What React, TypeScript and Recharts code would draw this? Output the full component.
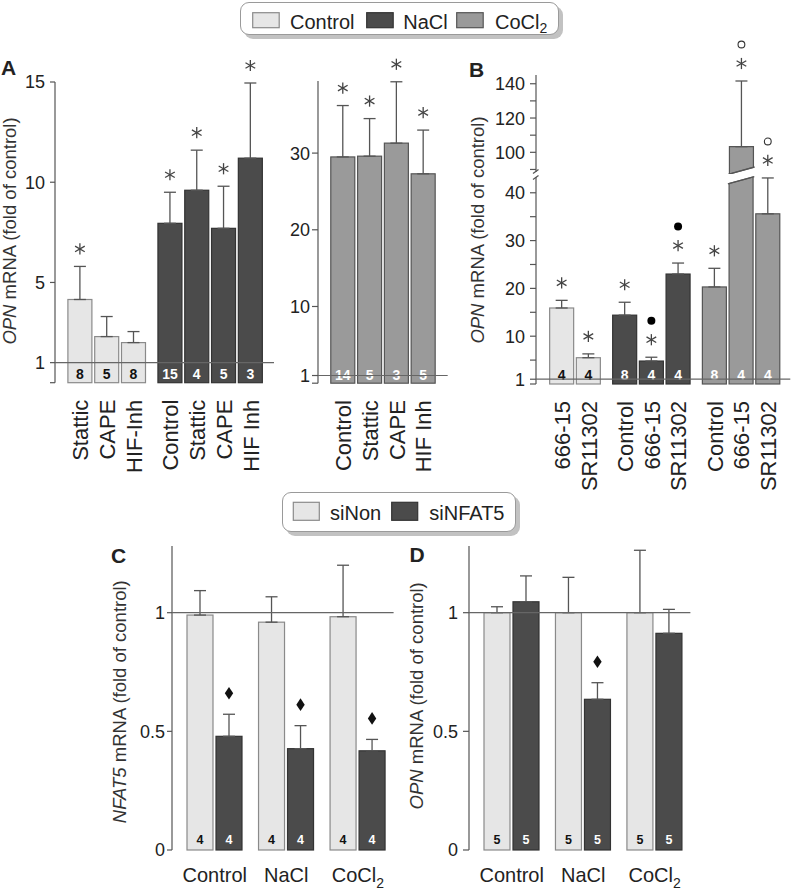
import React from 'react';
import { ComposedChart, Bar, XAxis, YAxis, ErrorBar } from 'recharts';

const FONT = '"Liberation Sans", Arial, Helvetica, sans-serif';
const INK = '#222';
const AXIS = '#555';

// fill / edge / n-label colour by treatment: Control, NaCl, CoCl2
const FILLS = ['#e6e6e6', '#4b4b4b', '#9a9a9a'];
const EDGES = ['#8a8a8a', '#333333', '#555555'];
const N_INK = ['#111111', '#ffffff', '#ffffff'];

// panel A, left part (Control + NaCl)
const aLeftLabels = ['Stattic', 'CAPE', 'HIF-Inh', 'Control', 'Stattic', 'CAPE', 'HIF Inh'];
const aLeftGroups = [0, 0, 0, 1, 1, 1, 1];
const aLeftMeans = [4.15, 2.3, 2.0, 7.95, 9.6, 7.7, 11.2];
const aLeftSem = [1.65, 1.0, 0.55, 1.55, 2.0, 2.1, 3.75];
const aLeftN = [8, 5, 8, 15, 4, 5, 3];
const aLeftMarks = ['*', '', '', '*', '*', '*', '*'];

// panel A, right part (CoCl2)
const aRightLabels = ['Control', 'Stattic', 'CAPE', 'HIF Inh'];
const aRightGroups = [2, 2, 2, 2];
const aRightMeans = [29.5, 29.6, 31.3, 27.3];
const aRightSem = [6.7, 4.9, 8.0, 5.7];
const aRightN = [14, 5, 3, 5];
const aRightMarks = ['*', '*', '*', '*'];

// panel B
const bLabels = ['666-15', 'SR11302', 'Control', '666-15', 'SR11302', 'Control', '666-15', 'SR11302'];
const bGroups = [0, 0, 1, 1, 1, 2, 2, 2];
const bMeans = [15.9, 5.5, 14.4, 4.8, 23.0, 20.3, 103.3, 35.6];
const bSem = [1.6, 0.8, 2.7, 0.8, 2.3, 3.9, 38.3, 7.5];
const bN = [4, 4, 8, 4, 4, 8, 4, 4];
const bMarks = ['*', '*', '*', '*f', '*f', '*', '*o', '*o'];

// panels C and D
const cdCategories = ['Control', 'NaCl', 'CoCl2'];
const cNonMeans = [0.99, 0.96, 0.983];
const cNonSem = [0.103, 0.107, 0.217];
const cNfMeans = [0.479, 0.427, 0.418];
const cNfSem = [0.093, 0.097, 0.048];
const cN = [4, 4, 4];
const cNfMarks = ['d', 'd', 'd'];

const dNonMeans = [1.0, 1.0, 1.0];
const dNonSem = [0.025, 0.149, 0.263];
const dNfMeans = [1.046, 0.635, 0.913];
const dNfSem = [0.109, 0.07, 0.101];
const dN = [5, 5, 5];
const dNfMarks = ['', 'd', ''];

const GROUP_GAP = 0.36;
const B_LOW_TOP = 43.3;
const B_UP_MIN = 87.35;

type Item = { g: number; mean: number; sem: number; n: number; mark: string };
type Row = Item & { label: string; pos: number; err: number[]; shown: number; errLow: number[] | null };

function buildRows(labels: string[], groups: number[], means: number[], sems: number[], ns: number[], marks: string[]): Row[] {
  let gaps = 0;
  return labels.map((label, i) => {
    if (i > 0 && groups[i] !== groups[i - 1]) gaps += 1;
    return {
      label, pos: i + gaps * GROUP_GAP, g: groups[i], mean: means[i], sem: sems[i],
      err: [0, sems[i]], n: ns[i], mark: marks[i],
      shown: Math.min(means[i], B_LOW_TOP),
      errLow: means[i] > B_LOW_TOP ? null : [0, sems[i]],
    };
  });
}

const aLeftRows = buildRows(aLeftLabels, aLeftGroups, aLeftMeans, aLeftSem, aLeftN, aLeftMarks);
const aRightRows = buildRows(aRightLabels, aRightGroups, aRightMeans, aRightSem, aRightN, aRightMarks);
const bRows = buildRows(bLabels, bGroups, bMeans, bSem, bN, bMarks);
const bUpperRows = bRows.filter(r => r.mean > B_LOW_TOP);

function pairRows(nonM: number[], nonS: number[], nfM: number[], nfS: number[], ns: number[], nfMarks: string[]) {
  return cdCategories.map((cat, i) => ({
    cat,
    nonMean: nonM[i], nfMean: nfM[i],
    nonErr: [0, nonS[i]], nfErr: [0, nfS[i]],
    non: { g: 0, mean: nonM[i], sem: nonS[i], n: ns[i], mark: '' },
    nf: { g: 1, mean: nfM[i], sem: nfS[i], n: ns[i], mark: nfMarks[i] },
  }));
}
const cRows = pairRows(cNonMeans, cNonSem, cNfMeans, cNfSem, cN, cNfMarks);
const dRows = pairRows(dNonMeans, dNonSem, dNfMeans, dNfSem, dN, dNfMarks);

const Asterisk = ({ cx, cy }: { cx: number; cy: number }) => {
  const r = 5.6;
  return (
    <g stroke="#444" strokeWidth={1.3}>
      {[90, 30, -30].map(a => {
        const dx = r * Math.cos((a * Math.PI) / 180);
        const dy = r * Math.sin((a * Math.PI) / 180);
        return <line key={a} x1={cx - dx} y1={cy - dy} x2={cx + dx} y2={cy + dy} />;
      })}
    </g>
  );
};

function Marks({ cx, top, mark }: { cx: number; top: number; mark: string }) {
  return (
    <g>
      {mark.includes('*') && <Asterisk cx={cx} cy={top - 17.5} />}
      {mark.includes('f') && <circle cx={cx} cy={top - 36.5} r={4} fill="#000" />}
      {mark.includes('o') && <circle cx={cx} cy={top - 36.5} r={3.4} fill="#fff" stroke="#333" strokeWidth={1.1} />}
      {mark.includes('d') && (
        <polygon
          points={`${cx},${top - 27.3} ${cx + 4.2},${top - 21} ${cx},${top - 14.7} ${cx - 4.2},${top - 21}`}
          fill="#111"
        />
      )}
    </g>
  );
}

type ShapeOpt = {
  base: number; pick: (d: any) => Item; nSize: number; nLift: number; showN: boolean;
  cut?: 'top' | 'bottom';
};

const barShape = (o: ShapeOpt) => (p: any) => {
  const { x, y, width: w, height: h, payload } = p;
  const s = o.pick(payload);
  if (!s || y == null || isNaN(y)) return <g />;
  const fill = FILLS[s.g];
  const edge = EDGES[s.g];
  const broken = o.cut === 'top' && s.mean > B_LOW_TOP;
  let body;
  if (broken) {
    body = (
      <g>
        <polygon points={`${x},${y + 6.5} ${x + w},${y} ${x + w},${y + h} ${x},${y + h}`} fill={fill} stroke={edge} strokeWidth={1.2} />
        <line x1={x - 1.2} y1={y + 6.8} x2={x + w + 1.2} y2={y - 0.3} stroke={edge} strokeWidth={1.3} />
      </g>
    );
  } else if (o.cut === 'bottom') {
    body = (
      <g>
        <polygon points={`${x},${y} ${x + w},${y} ${x + w},${y + h - 6.7} ${x},${y + h}`} fill={fill} stroke={edge} strokeWidth={1.2} />
        <line x1={x - 1.2} y1={y + h + 0.3} x2={x + w + 1.2} y2={y + h - 7} stroke={edge} strokeWidth={1.3} />
      </g>
    );
  } else {
    body = <rect x={x} y={y} width={w} height={h} fill={fill} stroke={edge} strokeWidth={1.2} />;
  }
  const k = h / (s.mean - o.base);
  const top = y - s.sem * k;
  return (
    <g>
      {body}
      {o.showN && (
        <text x={x + w / 2} y={y + h - o.nLift} textAnchor="middle" fontSize={o.nSize} fontWeight="bold"
          fontFamily={FONT} fill={N_INK[s.g]}>{s.n}</text>
      )}
      {!broken && s.mark && <Marks cx={x + w / 2} top={top} mark={s.mark} />}
    </g>
  );
};

// y tick labels; the tick at 1 also carries the "fold of control = 1" line across the plot (drawn under the bars)
type TickOpt = { shown: number[]; off: number; span: number; lineAt?: number };
const yTick = (t: TickOpt) => (p: any) => {
  const v = p.payload?.value;
  const axisX = p.x + t.off;
  return (
    <g>
      {t.lineAt === v && <line x1={axisX} y1={p.y} x2={axisX + t.span} y2={p.y} stroke="#666" strokeWidth={1.2} />}
      {t.shown.includes(v) && (
        <text x={p.x} y={p.y} dy="0.36em" textAnchor="end" fontSize={18} fontFamily={FONT} fill={INK}>{String(v)}</text>
      )}
    </g>
  );
};

const rotTick = (rows: Row[]) => (p: any) => {
  const v = p.payload?.value;
  const r = rows.find(q => Math.abs(q.pos - v) < 1e-6);
  if (!r) return <g />;
  const ty = p.y + 17;
  return (
    <text x={p.x} y={ty} dy="0.36em" textAnchor="end" transform={`rotate(-90 ${p.x} ${ty})`}
      fontSize={22} fontFamily={FONT} fill={INK}>{r.label}</text>
  );
};

const catTick = (p: any) => {
  const v = p.payload?.value as string;
  const ty = p.y + 31.7;
  return (
    <text x={p.x} y={ty} textAnchor="middle" fontSize={20} fontFamily={FONT} fill={INK}>
      {v === 'CoCl2' ? (<><tspan>CoCl</tspan><tspan dy={6} fontSize={14}>2</tspan></>) : v}
    </text>
  );
};

type Plot = { l: number; t: number; r: number; b: number };
function frame(p: Plot, yw: number, mt: number, xh: number, mr = 2) {
  return {
    left: p.l - yw, top: p.t - mt,
    width: p.r - p.l + yw + mr, height: p.b - p.t + mt + xh,
    margin: { top: mt, right: mr, bottom: 0, left: 0 },
  };
}

type NumProps = {
  rows: Row[]; tickRows: Row[]; plot: Plot; xDomain: [number, number]; yDomain: [number, number];
  yTicks: number[]; yShown: number[]; yw: number; mt: number; xh: number; tickSize: number; tickMargin: number;
  valueKey: string; errKey: string; opt: ShapeOpt; hideX?: boolean; refOne?: boolean;
};

function NumChart(q: NumProps) {
  const f = frame(q.plot, q.yw, q.mt, q.xh);
  const tick = yTick({ shown: q.yShown, off: q.tickSize + q.tickMargin, span: q.plot.r - q.plot.l, lineAt: q.refOne ? 1 : undefined });
  return (
    <div style={{ position: 'absolute', left: f.left, top: f.top }}>
      <ComposedChart width={f.width} height={f.height} data={q.rows} margin={f.margin}>
        <XAxis type="number" dataKey="pos" domain={q.xDomain} ticks={q.tickRows.map(r => r.pos)} interval={0}
          hide={q.hideX} height={q.hideX ? 0 : q.xh} axisLine={false} tickLine={false} tickSize={0} tickMargin={0}
          tick={q.hideX ? false : rotTick(q.tickRows)} />
        <YAxis type="number" domain={q.yDomain} ticks={q.yTicks} interval={0} width={q.yw}
          axisLine={{ stroke: AXIS, strokeWidth: 1.2 }} tickLine={{ stroke: AXIS, strokeWidth: 1.2 }}
          tickSize={q.tickSize} tickMargin={q.tickMargin} tick={tick} />
        <Bar dataKey={q.valueKey} barSize={24} isAnimationActive={false} shape={barShape(q.opt)}>
          <ErrorBar dataKey={q.errKey} width={6} stroke="#555" strokeWidth={1.3} isAnimationActive={false} />
        </Bar>
      </ComposedChart>
    </div>
  );
}

function PairChart({ rows, plot, tickSize, tickMargin }: { rows: any[]; plot: Plot; tickSize: number; tickMargin: number }) {
  const f = frame(plot, 50, 30, 44);
  const opt = (key: 'non' | 'nf'): ShapeOpt => ({ base: 0, pick: d => d[key], nSize: 12.5, nLift: 6, showN: true });
  const tick = yTick({ shown: [0, 0.5, 1], off: tickSize + tickMargin, span: plot.r - plot.l, lineAt: 1 });
  return (
    <div style={{ position: 'absolute', left: f.left, top: f.top }}>
      <ComposedChart width={f.width} height={f.height} data={rows} margin={f.margin} barGap={3}>
        <XAxis dataKey="cat" type="category" padding={{ left: 7, right: 0 }} interval={0} height={44}
          axisLine={false} tickLine={false} tickSize={0} tickMargin={0} tick={catTick} />
        <YAxis type="number" domain={[0, 1.281]} ticks={[0, 0.5, 1]} interval={0} width={50}
          axisLine={{ stroke: AXIS, strokeWidth: 1.2 }} tickLine={{ stroke: AXIS, strokeWidth: 1.2 }}
          tickSize={tickSize} tickMargin={tickMargin} tick={tick} />
        <Bar dataKey="nonMean" barSize={26} isAnimationActive={false} shape={barShape(opt('non'))}>
          <ErrorBar dataKey="nonErr" width={6} stroke="#555" strokeWidth={1.3} isAnimationActive={false} />
        </Bar>
        <Bar dataKey="nfMean" barSize={26} isAnimationActive={false} shape={barShape(opt('nf'))}>
          <ErrorBar dataKey="nfErr" width={6} stroke="#555" strokeWidth={1.3} isAnimationActive={false} />
        </Bar>
      </ComposedChart>
    </div>
  );
}

const Title = ({ cx, cy, gene }: { cx: number; cy: number; gene: string }) => (
  <text x={cx} y={cy} dy="0.35em" textAnchor="middle" transform={`rotate(-90 ${cx} ${cy})`}
    fontSize={18.5} fontFamily={FONT} fill="#333">
    <tspan fontStyle="italic">{gene}</tspan> mRNA (fold of control)
  </text>
);

const Swatch = ({ x, y, w, h, g }: { x: number; y: number; w: number; h: number; g: number }) => (
  <rect x={x} y={y} width={w} height={h} fill={FILLS[g]} stroke={EDGES[g]} strokeWidth={1.2} />
);

const boxStyle = (left: number, top: number, width: number, height: number): React.CSSProperties => ({
  position: 'absolute', left, top, width, height, boxSizing: 'border-box', background: '#fff',
  border: '1px solid #9a9a9a', borderRadius: 9, boxShadow: '4px 4px 0 #c2c2c2',
});

export default function App() {
  const numOpt = (extra: Partial<ShapeOpt> = {}): ShapeOpt => ({ base: 0, pick: d => d, nSize: 14, nLift: 3.5, showN: true, ...extra });
  return (
    <div style={{ position: 'absolute', left: 0, top: 0, width: 792, height: 895, background: '#fff', overflow: 'hidden', fontFamily: FONT }}>
      <NumChart rows={aLeftRows} tickRows={aLeftRows} plot={{ l: 55, t: 82, r: 274, b: 382.7 }}
        xDomain={[-0.944, 7.228]} yDomain={[0, 15]} yTicks={[0, 1, 5, 10, 15]} yShown={[1, 5, 10, 15]}
        yw={55} mt={45} xh={105} tickSize={5} tickMargin={5} valueKey="mean" errKey="err" opt={numOpt()} refOne />
      <NumChart rows={aRightRows} tickRows={aRightRows} plot={{ l: 318.3, t: 81.2, r: 448, b: 383.4 }}
        xDomain={[-0.94, 3.9]} yDomain={[0, 39.4]} yTicks={[0, 1, 10, 20, 30]} yShown={[1, 10, 20, 30]}
        yw={38} mt={45} xh={105} tickSize={6} tickMargin={2} valueKey="mean" errKey="err" opt={numOpt()} refOne />
      <NumChart rows={bUpperRows} tickRows={bRows} plot={{ l: 535.7, t: 75, r: 790, b: 174 }}
        xDomain={[-0.974, 8.55]} yDomain={[B_UP_MIN, 145.1]} yTicks={[90, 100, 110, 120, 130, 140]} yShown={[100, 120, 140]}
        yw={50} mt={40} xh={0} tickSize={6} tickMargin={5} valueKey="mean" errKey="err"
        opt={numOpt({ base: B_UP_MIN, showN: false, cut: 'bottom' })} hideX />
      <NumChart rows={bRows} tickRows={bRows} plot={{ l: 535.7, t: 176.5, r: 790, b: 383.5 }}
        xDomain={[-0.974, 8.55]} yDomain={[0, B_LOW_TOP]} yTicks={[0, 1, 5, 10, 15, 20, 25, 30, 35, 40]} yShown={[1, 10, 20, 30, 40]}
        yw={50} mt={40} xh={110} tickSize={6} tickMargin={5} valueKey="shown" errKey="errLow"
        opt={numOpt({ cut: 'top' })} refOne />
      <PairChart rows={cRows} plot={{ l: 171.7, t: 546, r: 393.3, b: 850 }} tickSize={5} tickMargin={2} />
      <PairChart rows={dRows} plot={{ l: 469.3, t: 546, r: 690.7, b: 850 }} tickSize={6} tickMargin={5} />

      <svg width={792} height={895} style={{ position: 'absolute', left: 0, top: 0, pointerEvents: 'none' }}>
        <g fontFamily={FONT} fontWeight="bold" fontSize={21} fill="#222">
          <text x={1} y={75}>A</text>
          <text x={469} y={77}>B</text>
          <text x={111} y={562.5}>C</text>
          <text x={409.5} y={562}>D</text>
        </g>
        <Title cx={10} cy={231} gene="OPN" />
        <Title cx={477.7} cy={230} gene="OPN" />
        <Title cx={120} cy={701.7} gene="NFAT5" />
        <Title cx={416.7} cy={695.8} gene="OPN" />
        <rect x={533} y={172} width={6} height={5} fill="#fff" />
        <g stroke={AXIS} strokeWidth={1.2}>
          <line x1={533} y1={173.5} x2={538.5} y2={169.5} />
          <line x1={533} y1={179.5} x2={538.5} y2={175.5} />
        </g>
      </svg>

      <div style={boxStyle(240, 2, 319, 33)}>
        <svg width={317} height={36} style={{ position: 'absolute', left: 0, top: 0, overflow: 'visible' }}>
          <g fontFamily={FONT} fontSize={20} fill={INK}>
            <Swatch x={11.7} y={9.7} w={26.5} h={15} g={0} />
            <text x={49} y={25.5}>Control</text>
            <Swatch x={125.7} y={9.7} w={26.5} h={15} g={1} />
            <text x={162.3} y={25.5}>NaCl</text>
            <Swatch x={215.7} y={9.7} w={26.5} h={15} g={2} />
            <text x={254} y={25.5}>CoCl<tspan dy={4} fontSize={14}>2</tspan></text>
          </g>
        </svg>
      </div>
      <div style={boxStyle(282, 492, 234, 40)}>
        <svg width={232} height={38} style={{ position: 'absolute', left: 0, top: 0, overflow: 'visible' }}>
          <g fontFamily={FONT} fontSize={20} fill={INK}>
            <Swatch x={10.3} y={9.3} w={26} h={18} g={0} />
            <text x={47} y={27}>siNon</text>
            <Swatch x={108.7} y={9.3} w={26} h={18} g={1} />
            <text x={146.3} y={27}>siNFAT5</text>
          </g>
        </svg>
      </div>
    </div>
  );
}
